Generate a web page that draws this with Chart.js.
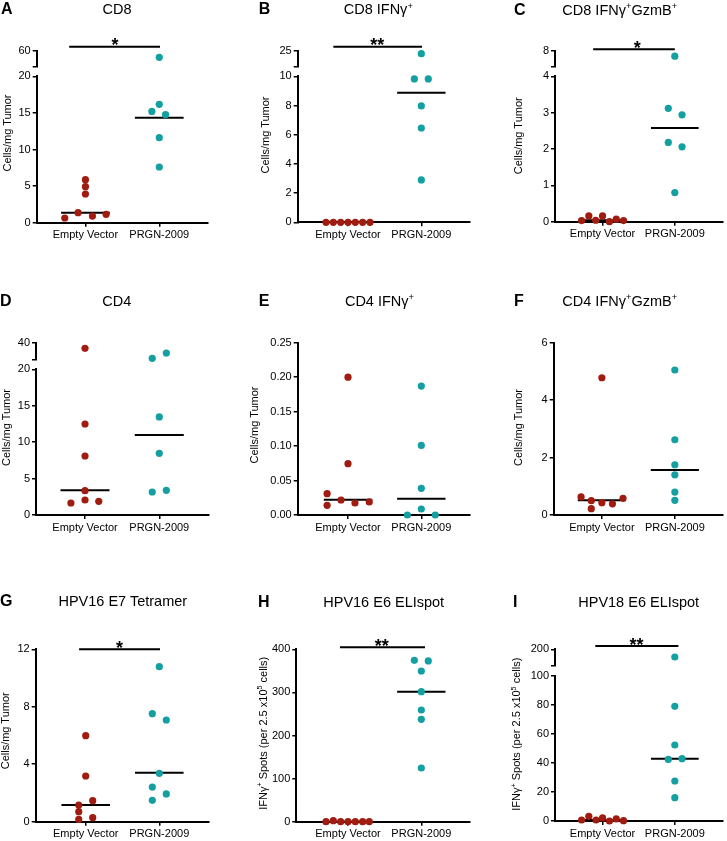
<!DOCTYPE html>
<html><head><meta charset="utf-8">
<script src="https://cdn.jsdelivr.net/npm/chart.js@4.4.0/dist/chart.umd.min.js"></script>
<style>
html,body{margin:0;padding:0;background:#fff;}
#wrap{position:relative;width:727px;height:841px;overflow:hidden;background:#fff;}
#wrap canvas{position:absolute;left:0;top:0;}
#txt{position:absolute;left:0;top:0;}
</style></head>
<body><div id="wrap"><svg id="txt" width="727" height="841"></svg></div>
<script>
// ---------- DATA ----------
const categories = ['Empty Vector', 'PRGN-2009'];
const panelLetters = ['A','B','C','D','E','F','G','H','I'];
const panelTitles = ['CD8','CD8 IFNγ⁺','CD8 IFNγ⁺GzmB⁺','CD4','CD4 IFNγ⁺','CD4 IFNγ⁺GzmB⁺','HPV16 E7 Tetramer','HPV16 E6 ELIspot','HPV18 E6 ELIspot'];
const yTitles = ['Cells/mg Tumor','Cells/mg Tumor','Cells/mg Tumor','Cells/mg Tumor','Cells/mg Tumor','Cells/mg Tumor','Cells/mg Tumor','IFNγ⁺ Spots (per 2.5 x10⁵ cells)','IFNγ⁺ Spots (per 2.5 x10⁵ cells)'];
const significance = ['*','**','*','','','','*','**','**'];

// A  CD8
const A_empty = [0.64, 1.37, 3.92, 4.92, 5.88, 0.91, 1.14];
const A_emptyX = [-0.28, -0.10, 0, 0, 0, 0.095, 0.28];
const A_prgn = [43, 16.17, 14.76, 15.2, 11.62, 7.61];
const A_prgnX = [0, 0, 0.085, -0.10, 0, 0];
const A_median = [1.37, 14.35];
const A_ticks = [0, 5, 10, 15, 20];
const A_upperTicks = [20, 60];
// B  CD8 IFNg+
const B_empty = [0, 0, 0, 0, 0, 0, 0];
const B_emptyX = [-0.3, -0.2, -0.1, 0, 0.1, 0.2, 0.3];
const B_prgn = [22.1, 9.82, 9.82, 7.97, 6.46, 2.9];
const B_prgnX = [0, -0.095, 0.095, 0, 0, 0];
const B_median = [0, 8.88];
const B_ticks = [0, 2, 4, 6, 8, 10];
const B_upperTicks = [10, 25];
// C  CD8 IFNg+GzmB+
const C_empty = [0.03, 0.16, 0.04, 0.16, 0.0, 0.07, 0.03];
const C_emptyX = [-0.29, -0.19, -0.095, 0, 0.095, 0.19, 0.29];
const C_prgn = [6.6, 3.12, 2.94, 2.18, 2.06, 0.80];
const C_prgnX = [0, -0.09, 0.1, -0.09, 0.1, 0];
const C_median = [0.04, 2.58];
const C_ticks = [0, 1, 2, 3, 4];
const C_upperTicks = [4, 8];
// D  CD4
const D_empty = [33.2, 12.49, 8.1, 3.34, 2.06, 1.65, 1.88];
const D_emptyX = [0, 0, 0, 0, 0, -0.19, 0.185];
const D_prgn = [21.2, 27.6, 13.46, 8.47, 3.16, 3.39];
const D_prgnX = [-0.095, 0.095, 0, 0, -0.095, 0.095];
const D_median = [3.39, 10.98];
const D_ticks = [0, 5, 10, 15, 20];
const D_upperTicks = [20, 40];
// E  CD4 IFNg+
const E_empty = [0.200, 0.0745, 0.031, 0.014, 0.0218, 0.0174, 0.0189];
const E_emptyX = [0, 0, -0.285, -0.285, -0.095, 0.095, 0.29];
const E_prgn = [0.187, 0.101, 0.0387, 0.0087, 0, 0];
const E_prgnX = [0, 0, 0, 0, -0.19, 0.19];
const E_median = [0.0222, 0.0237];
const E_ticks = [0, 0.05, 0.10, 0.15, 0.20, 0.25];
// F  CD4 IFNg+GzmB+
const F_empty = [4.78, 0.63, 0.50, 0.22, 0.43, 0.39, 0.58];
const F_emptyX = [0, -0.285, -0.145, -0.145, 0, 0.145, 0.29];
const F_prgn = [5.05, 2.62, 1.75, 1.40, 0.80, 0.51];
const F_prgnX = [0, 0, 0, 0, 0, 0];
const F_median = [0.51, 1.57];
const F_ticks = [0, 2, 4, 6];
// G  HPV16 E7 Tetramer
const G_empty = [5.99, 3.18, 1.16, 0.70, 0.16, 1.46, 0.28];
const G_emptyX = [0, 0, -0.095, -0.095, -0.095, 0.095, 0.095];
const G_prgn = [10.79, 7.52, 7.08, 3.37, 2.41, 1.93, 1.49];
const G_prgnX = [0, -0.095, 0.095, 0, -0.095, 0.095, -0.095];
const G_median = [1.16, 3.41];
const G_ticks = [0, 4, 8, 12];
// H  HPV16 E6 ELIspot
const H_empty = [0, 2.3, 0, 0, 0, 0, 0];
const H_emptyX = [-0.3, -0.2, -0.1, 0, 0.1, 0.2, 0.29];
const H_prgn = [374.5, 373, 349.7, 301.7, 259.2, 237.5, 124.6];
const H_prgnX = [-0.095, 0.095, 0, 0, 0, 0, 0];
const H_median = [0, 301.7];
const H_ticks = [0, 100, 200, 300, 400];
// I  HPV18 E6 ELIspot
const I_empty = [0.7, 3.2, 0.7, 2.1, 0, 1.4, 0.2];
const I_emptyX = [-0.29, -0.19, -0.09, 0, 0.095, 0.19, 0.29];
const I_prgn = [154, 79.1, 52.4, 42.5, 43.0, 27.6, 16.1];
const I_prgnX = [0, 0, 0, -0.09, 0.1, 0, 0];
const I_median = [0.7, 43];
const I_ticks = [0, 20, 40, 60, 80, 100];
const I_upperTicks = [100, 200];

const panelData = {
  A:{empty:A_empty, emptyX:A_emptyX, prgn:A_prgn, prgnX:A_prgnX, median:A_median, ticks:A_ticks, upper:A_upperTicks, dec:0},
  B:{empty:B_empty, emptyX:B_emptyX, prgn:B_prgn, prgnX:B_prgnX, median:B_median, ticks:B_ticks, upper:B_upperTicks, dec:0},
  C:{empty:C_empty, emptyX:C_emptyX, prgn:C_prgn, prgnX:C_prgnX, median:C_median, ticks:C_ticks, upper:C_upperTicks, dec:0},
  D:{empty:D_empty, emptyX:D_emptyX, prgn:D_prgn, prgnX:D_prgnX, median:D_median, ticks:D_ticks, upper:D_upperTicks, dec:0},
  E:{empty:E_empty, emptyX:E_emptyX, prgn:E_prgn, prgnX:E_prgnX, median:E_median, ticks:E_ticks, upper:null, dec:2},
  F:{empty:F_empty, emptyX:F_emptyX, prgn:F_prgn, prgnX:F_prgnX, median:F_median, ticks:F_ticks, upper:null, dec:0},
  G:{empty:G_empty, emptyX:G_emptyX, prgn:G_prgn, prgnX:G_prgnX, median:G_median, ticks:G_ticks, upper:null, dec:0},
  H:{empty:H_empty, emptyX:H_emptyX, prgn:H_prgn, prgnX:H_prgnX, median:H_median, ticks:H_ticks, upper:null, dec:0},
  I:{empty:I_empty, emptyX:I_emptyX, prgn:I_prgn, prgnX:I_prgnX, median:I_median, ticks:I_ticks, upper:I_upperTicks, dec:0}
};

// ---------- LAYOUT (pixels) ----------
const LAYOUT = {
  A:{axisX:36.7, xEnd:208, xMin:-0.66, xMax:1.66, base:222.7, top:76.3, upTop:50.7, upBot:66.3, sig:[-0.22,1.01,0.40,4], title:[117,14.3], letter:[1,14.3], ytitle:[11,133]},
  B:{axisX:297.7, xEnd:469.7, xMin:-0.686, xMax:1.66, base:222.3, top:76.3, upTop:50.7, upBot:66.3, sig:[-0.2,1.01,0.40,4], title:[378.3,14.3], letter:[258.7,14.3], ytitle:[269,135]},
  C:{axisX:555, xEnd:725.7, xMin:-0.658, xMax:1.667, base:221.7, top:76.3, upTop:50.7, upBot:66.3, sig:[-0.13,1.0,0.48,1.4], title:[619.8,14.5], letter:[514,14.5], ytitle:[522,135.8]},
  D:{axisX:36, xEnd:208.3, xMin:-0.66, xMax:1.66, base:515, top:369.3, upTop:342.7, upBot:359.3, title:[116.7,306], letter:[0,306], ytitle:[9.8,427.5]},
  E:{axisX:297.7, xEnd:469.7, xMin:-0.686, xMax:1.66, base:515, top:342.7, title:[379.5,306], letter:[258.7,306], ytitle:[258,425]},
  F:{axisX:553.7, xEnd:725.7, xMin:-0.66, xMax:1.66, base:515, top:342.7, title:[619.8,306], letter:[514,306], ytitle:[522,427.5]},
  G:{axisX:35.7, xEnd:208.3, xMin:-0.68, xMax:1.666, base:821.7, top:649.3, sig:[-0.09,1.01,0.46,0], title:[122.8,605.7], letter:[0,605.7], ytitle:[9,730.8]},
  H:{axisX:296.3, xEnd:469.7, xMin:-0.705, xMax:1.66, base:821.7, top:649.3, sig:[-0.11,1.05,0.46,2], title:[383.7,607], letter:[258,607], ytitle:[266.5,733.3]},
  I:{axisX:555, xEnd:725.7, xMin:-0.658, xMax:1.667, base:821, top:676, upTop:649.3, upBot:666, sig:[-0.1,1.05,0.47,3.3], title:[638.7,606.5], letter:[513,606.5], ytitle:[520,734.2]}
};

const W = 727, H = 841;
const RED = '#a01c10', TEAL = '#14a0a0';
const FONT = '"Liberation Sans", Arial, Helvetica, sans-serif';
Chart.defaults.font.family = FONT;
Chart.defaults.color = '#000';

const sigPlugin = {
  id: 'sig',
  afterDatasetsDraw(chart, args, opts) {
    if (!opts || !opts.text) return;
    const {ctx, chartArea, scales} = chart;
    const x = scales.x;
    const y = chartArea.top - opts.dy;
    ctx.save();
    ctx.strokeStyle = '#000'; ctx.lineWidth = 2;
    ctx.beginPath();
    ctx.moveTo(x.getPixelForValue(opts.x0), y);
    ctx.lineTo(x.getPixelForValue(opts.x1), y);
    ctx.stroke();
    ctx.fillStyle = '#000';
    ctx.font = 'bold 18px ' + FONT;
    ctx.textAlign = 'center'; ctx.textBaseline = 'alphabetic';
    ctx.fillText(opts.text, x.getPixelForValue(opts.xt), y + 4.5);
    ctx.restore();
  }
};

const wrap = document.getElementById('wrap');
const YW = 30;

function makeChart(L, seg, hasX, datasets, sig, dec) {
  const canvas = document.createElement('canvas');
  canvas.width = W; canvas.height = H;
  wrap.insertBefore(canvas, document.getElementById('txt'));
  const tickFont = {size: 11, family: FONT};
  const XH = hasX ? Math.min(30, H - seg.bottom - 0.01) : 0;
  new Chart(canvas, {
    type: 'scatter',
    data: {datasets},
    options: {
      responsive: false, animation: false, devicePixelRatio: 1,
      events: [],
      layout: {padding: {left: L.axisX - YW, right: W - L.xEnd, top: seg.top, bottom: H - seg.bottom - XH}},
      plugins: {legend: {display: false}, tooltip: {enabled: false}, sig: sig || {}},
      scales: {
        x: {
          type: 'linear', min: L.xMin, max: L.xMax, display: hasX,
          afterFit: s => { if (hasX) s.height = XH; },
          afterBuildTicks: s => { s.ticks = [{value: 0}, {value: 1}]; },
          ticks: {callback: v => categories[v], autoSkip: false, maxRotation: 0, font: tickFont, color: '#000', padding: 2},
          grid: {display: true, drawOnChartArea: false, drawTicks: true, tickLength: 4, color: '#000', lineWidth: 1.5},
          border: {display: true, color: '#000', width: 2}
        },
        y: {
          type: 'linear', min: seg.min, max: seg.max,
          afterFit: s => { s.width = YW; },
          afterBuildTicks: s => { s.ticks = seg.ticks.map(v => ({value: v})); },
          ticks: {
            callback: v => (seg.upper && v === seg.min) ? '' : v.toFixed(dec),
            autoSkip: false, font: tickFont, color: '#000', padding: 2
          },
          grid: {display: true, drawOnChartArea: false, drawTicks: true, tickLength: 4, color: '#000', lineWidth: 1.5},
          border: {display: true, color: '#000', width: 2}
        }
      }
    },
    plugins: [sigPlugin]
  });
}

function buildPanel(i) {
  const k = panelLetters[i];
  const D = panelData[k], L = LAYOUT[k];
  const lower = {min: D.ticks[0], max: D.ticks[D.ticks.length - 1], ticks: D.ticks, top: L.top, bottom: L.base, upper: false};
  const segs = [lower];
  if (D.upper) segs.push({min: D.upper[0], max: D.upper[1], ticks: D.upper, top: L.upTop, bottom: L.upBot, upper: true});
  segs.forEach(seg => {
    const inSeg = v => seg.upper ? v > lower.max : v <= lower.max;
    const ds = [];
    [[D.empty, D.emptyX, RED, D.median[0], 0], [D.prgn, D.prgnX, TEAL, D.median[1], 1]].forEach(([vals, xs, col, med, c]) => {
      ds.push({
        data: vals.map((v, j) => ({x: c + xs[j], y: v})).filter(p => inSeg(p.y)),
        backgroundColor: col, pointBackgroundColor: col, pointBorderColor: col,
        pointRadius: 3.6, pointBorderWidth: 0, order: 1, clip: false
      });
      if (inSeg(med)) {
        ds.push({
          data: [{x: c - 0.33, y: med}, {x: c + 0.33, y: med}],
          showLine: true, borderColor: '#000', borderWidth: 2, pointRadius: 0, order: 2, clip: false
        });
      }
    });
    const isTopSeg = seg.upper || !D.upper;
    const sig = (isTopSeg && significance[i] && L.sig) ? {text: significance[i], x0: L.sig[0], x1: L.sig[1], xt: L.sig[2], dy: L.sig[3]} : null;
    makeChart(L, seg, !seg.upper, ds, sig, D.dec);
  });
}

// ---------- TEXT (SVG) ----------
const NS = 'http://www.w3.org/2000/svg';
const svg = document.getElementById('txt');
function el(name, attrs) {
  const e = document.createElementNS(NS, name);
  for (const a in attrs) e.setAttribute(a, attrs[a]);
  return e;
}
function richText(str, attrs, size) {
  const t = el('text', attrs);
  const sup = {'⁺': '+', '⁵': '5'};
  let buf = '', pendingDown = 0;
  const pushNormal = () => {
    if (!buf) return;
    const s = el('tspan', pendingDown ? {dy: pendingDown} : {});
    s.textContent = buf; t.appendChild(s);
    buf = ''; pendingDown = 0;
  };
  for (const ch of str) {
    if (sup[ch]) {
      pushNormal();
      const s = el('tspan', {dy: -0.4 * size, 'font-size': 0.65 * size});
      s.textContent = sup[ch]; t.appendChild(s);
      pendingDown = 0.4 * size;
    } else buf += ch;
  }
  pushNormal();
  return t;
}

panelLetters.forEach((k, i) => {
  buildPanel(i);
  const L = LAYOUT[k];
  const letter = el('text', {x: L.letter[0], y: L.letter[1], 'font-family': FONT, 'font-size': 16, 'font-weight': 'bold', fill: '#000'});
  letter.textContent = k;
  svg.appendChild(letter);
  svg.appendChild(richText(panelTitles[i], {x: L.title[0], y: L.title[1], 'font-family': FONT, 'font-size': 14.5, 'text-anchor': 'middle', fill: '#000'}, 14.5));
  svg.appendChild(richText(yTitles[i], {x: 0, y: 0, transform: `translate(${L.ytitle[0]},${L.ytitle[1]}) rotate(-90)`, 'font-family': FONT, 'font-size': 11, 'text-anchor': 'middle', fill: '#000'}, 11));
});
</script>
</body></html>
